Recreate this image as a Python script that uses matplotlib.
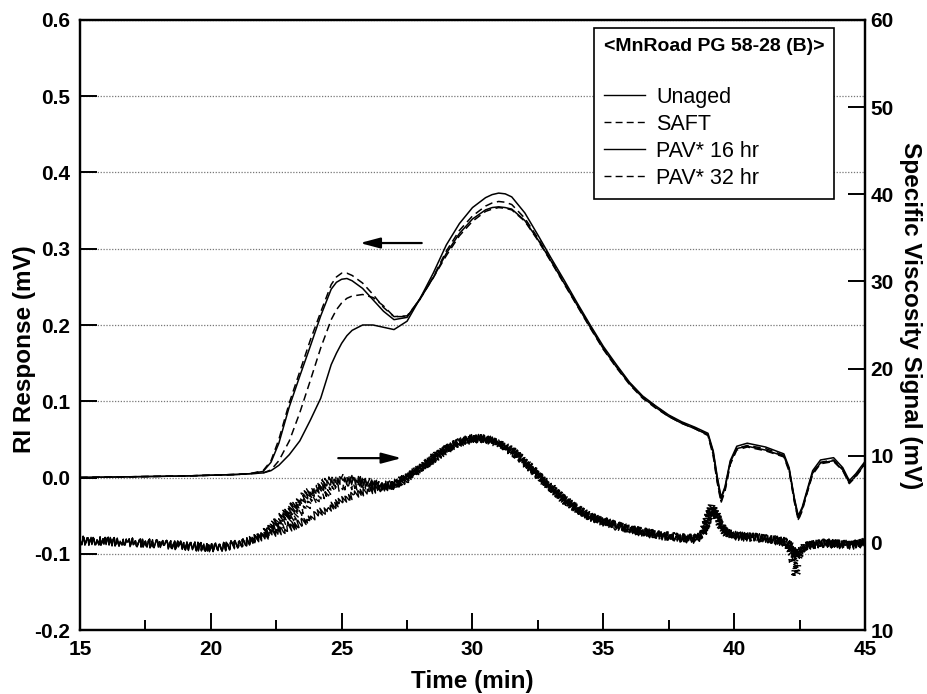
import matplotlib
matplotlib.use("Agg")
import matplotlib.pyplot as plt
from matplotlib.lines import Line2D
from matplotlib.ticker import FormatStrFormatter, MultipleLocator

plt.rcParams['font.family'] = ['Liberation Sans', 'DejaVu Sans']
plt.rcParams['axes.unicode_minus'] = False

# RI response (left axis, mV)
t_ri = [15, 17, 19, 20, 21, 21.5, 22, 22.3, 22.6, 23.0, 23.4, 23.8, 24.2, 24.6, 24.8, 25.0,
        25.2, 25.4, 25.8, 26.2, 26.6, 27.0, 27.5, 28.0, 28.5, 29.0, 29.5, 30.0, 30.5, 30.75,
        31.0, 31.25, 31.5, 32.0, 32.5, 33.0, 33.5, 34.0, 34.5, 35.0, 35.5, 36.0, 36.5, 37.0,
        37.5, 38.0, 38.5, 39.0, 39.2, 39.35, 39.5, 39.65, 39.85, 40.1, 40.5, 41.2, 41.9, 42.1,
        42.3, 42.45, 42.6, 42.75, 43.0, 43.3, 43.8, 44.15, 44.4, 44.65, 45.0]
ri_unaged = [0.0, 0.001, 0.002, 0.003, 0.004, 0.005, 0.006, 0.009, 0.016, 0.030, 0.048, 0.075,
             0.104, 0.148, 0.163, 0.176, 0.186, 0.193, 0.200, 0.200, 0.197, 0.194, 0.205,
             0.235, 0.268, 0.305, 0.333, 0.354, 0.367, 0.371, 0.373, 0.372, 0.368, 0.347,
             0.318, 0.288, 0.259, 0.229, 0.200, 0.172, 0.148, 0.125, 0.107, 0.094, 0.082,
             0.073, 0.066, 0.058, 0.035, 0.002, -0.026, -0.012, 0.022, 0.041, 0.045, 0.040,
             0.031, 0.013, -0.027, -0.050, -0.039, -0.021, 0.009, 0.023, 0.026, 0.013, -0.004,
             0.005, 0.021]
ri_saft = [0.0, 0.001, 0.002, 0.003, 0.004, 0.005, 0.006, 0.010, 0.022, 0.048, 0.085, 0.127,
           0.170, 0.207, 0.220, 0.229, 0.235, 0.238, 0.240, 0.236, 0.225, 0.211, 0.211, 0.234,
           0.263, 0.297, 0.324, 0.343, 0.356, 0.360, 0.362, 0.361, 0.358, 0.340, 0.314, 0.285,
           0.256, 0.227, 0.198, 0.170, 0.146, 0.124, 0.106, 0.093, 0.081, 0.072, 0.065, 0.056,
           0.030, -0.004, -0.031, -0.016, 0.018, 0.038, 0.042, 0.038, 0.029, 0.010, -0.030,
           -0.055, -0.042, -0.024, 0.006, 0.020, 0.023, 0.011, -0.006, 0.003, 0.019]
ri_pav16 = [0.0, 0.001, 0.002, 0.003, 0.004, 0.005, 0.008, 0.020, 0.045, 0.093, 0.133, 0.172,
            0.212, 0.247, 0.256, 0.260, 0.261, 0.258, 0.248, 0.233, 0.218, 0.207, 0.210, 0.235,
            0.262, 0.294, 0.320, 0.339, 0.351, 0.354, 0.355, 0.354, 0.352, 0.337, 0.312, 0.284,
            0.255, 0.226, 0.197, 0.169, 0.145, 0.123, 0.105, 0.092, 0.080, 0.071, 0.064, 0.056,
            0.033, 0.000, -0.028, -0.014, 0.020, 0.038, 0.041, 0.036, 0.028, 0.011, -0.028,
            -0.053, -0.041, -0.023, 0.006, 0.019, 0.022, 0.010, -0.007, 0.002, 0.018]
ri_pav32 = [0.0, 0.001, 0.002, 0.003, 0.004, 0.005, 0.009, 0.022, 0.050, 0.098, 0.139, 0.180,
            0.217, 0.253, 0.263, 0.268, 0.268, 0.265, 0.255, 0.240, 0.223, 0.211, 0.212, 0.234,
            0.262, 0.291, 0.317, 0.336, 0.349, 0.352, 0.354, 0.353, 0.351, 0.336, 0.311, 0.283,
            0.254, 0.225, 0.196, 0.168, 0.144, 0.122, 0.104, 0.091, 0.080, 0.071, 0.064, 0.055,
            0.028, -0.006, -0.033, -0.018, 0.017, 0.036, 0.040, 0.035, 0.027, 0.008, -0.032,
            -0.056, -0.044, -0.025, 0.004, 0.018, 0.021, 0.009, -0.008, 0.001, 0.017]

# specific viscosity signal (right axis, mV)
t_sv = [15, 16, 17, 18, 19, 20, 20.5, 21, 21.5, 22, 22.5, 23, 23.5, 24, 24.5, 25, 25.5, 26,
        26.5, 27, 27.5, 28, 28.5, 29, 29.5, 30, 30.5, 31, 31.5, 32, 32.5, 33, 33.5, 34, 34.5,
        35, 35.5, 36, 36.5, 37, 37.5, 38, 38.5, 38.8, 39.0, 39.15, 39.3, 39.5, 39.7, 40.0,
        40.5, 41, 41.5, 42, 42.2, 42.35, 42.5, 42.7, 43, 43.5, 44, 44.5, 45]
sv_unaged = [0.2, 0.1, 0.0, -0.2, -0.4, -0.6, -0.5, -0.2, 0.2, 0.7, 1.2, 1.7, 2.4, 3.2, 4.0,
             4.8, 5.5, 6.0, 6.3, 6.6, 7.3, 8.5, 9.6, 10.7, 11.5, 11.9, 11.9, 11.4, 10.5, 9.2,
             7.7, 6.3, 4.9, 3.9, 3.0, 2.4, 1.9, 1.5, 1.2, 0.9, 0.7, 0.5, 0.4, 0.9, 2.6, 3.8,
             3.2, 1.8, 1.1, 0.8, 0.6, 0.5, 0.3, 0.0, -0.5, -1.4, -0.9, -0.4, -0.2, -0.1, -0.2,
             -0.3, 0.0]
sv_saft = [0.3, 0.2, 0.1, -0.1, -0.3, -0.5, -0.4, -0.1, 0.3, 0.8, 1.6, 2.6, 3.8, 5.0, 5.9,
           6.4, 6.5, 6.5, 6.4, 6.6, 7.4, 8.6, 9.7, 10.8, 11.6, 12.0, 12.0, 11.5, 10.6, 9.3,
           7.8, 6.4, 5.0, 3.9, 3.0, 2.5, 2.0, 1.6, 1.3, 1.0, 0.8, 0.6, 0.5, 1.0, 2.8, 4.0,
           3.3, 1.9, 1.2, 0.9, 0.7, 0.6, 0.4, 0.1, -0.6, -1.8, -1.0, -0.4, -0.2, 0.0, -0.1,
           -0.2, 0.1]
sv_pav16 = [0.3, 0.2, 0.1, -0.1, -0.3, -0.5, -0.4, -0.1, 0.3, 1.0, 2.2, 3.5, 4.9, 6.0, 6.8,
            7.1, 7.1, 6.9, 6.5, 6.6, 7.5, 8.6, 9.7, 10.8, 11.6, 12.0, 12.0, 11.5, 10.6, 9.3,
            7.8, 6.4, 5.0, 3.9, 3.0, 2.5, 2.0, 1.6, 1.3, 1.0, 0.8, 0.6, 0.5, 1.1, 3.0, 4.2,
            3.4, 2.0, 1.2, 0.9, 0.7, 0.6, 0.4, 0.1, -0.6, -1.6, -1.0, -0.4, -0.2, 0.0, -0.1,
            -0.2, 0.1]
sv_pav32 = [0.3, 0.2, 0.1, -0.1, -0.3, -0.5, -0.4, -0.1, 0.3, 1.0, 2.4, 3.9, 5.3, 6.4, 7.1,
            7.4, 7.3, 7.0, 6.6, 6.7, 7.6, 8.7, 9.8, 10.8, 11.6, 12.0, 12.0, 11.5, 10.6, 9.3,
            7.8, 6.4, 4.9, 3.9, 3.0, 2.5, 2.0, 1.6, 1.3, 1.0, 0.8, 0.6, 0.5, 1.0, 2.8, 4.0,
            3.3, 1.9, 1.2, 0.9, 0.7, 0.6, 0.4, 0.1, -1.2, -3.8, -1.2, -0.4, -0.2, 0.0, -0.1,
            -0.2, 0.1]

labels = ['Unaged', 'SAFT', 'PAV* 16 hr', 'PAV* 32 hr']
styles = ['-', (0, (5, 3)), '-', (0, (5, 3))]

fig = plt.figure(figsize=(9.27, 6.94), dpi=100)
ax = fig.add_axes([0.0863, 0.0922, 0.8468, 0.879])
ax2 = ax.twinx()

for y, ls in zip([ri_unaged, ri_saft, ri_pav16, ri_pav32], styles):
    ax.plot(t_ri, y, color='black', lw=1.1, ls=ls)

for y, ls in zip([sv_unaged, sv_saft, sv_pav16, sv_pav32], styles):
    line, = ax2.plot(t_sv, y, color='black', lw=1.0, ls=ls)
    # detector noise look
    line.set_sketch_params(scale=4, length=3.5, randomness=2)

ax.set_xlim(15, 45)
ax.set_ylim(-0.2, 0.6)
ax2.set_ylim(-10, 60)

ax.xaxis.set_major_locator(MultipleLocator(5))
ax.xaxis.set_minor_locator(MultipleLocator(2.5))
ax.yaxis.set_major_locator(MultipleLocator(0.1))
ax.yaxis.set_major_formatter(FormatStrFormatter('%.1f'))
ax2.set_yticks(range(-10, 61, 10))
ax2.set_yticklabels(['10', '0', '10', '20', '30', '40', '50', '60'])

ax.yaxis.grid(True, ls=(0, (1, 1.3)), color='#777777', lw=0.9)
ax.set_axisbelow(True)

for a in (ax, ax2):
    for s in a.spines.values():
        s.set_linewidth(1.6)
ax.tick_params(axis='x', which='major', direction='in', length=12, width=1.4,
               labelsize=15, pad=7, top=False)
ax.tick_params(axis='x', which='minor', direction='in', length=7, width=1.4, top=False)
ax.tick_params(axis='y', direction='in', length=12, width=1.4, labelsize=15, pad=7, right=False)
ax2.tick_params(axis='y', direction='in', length=12, width=1.4, labelsize=15, pad=4)
for lab in ax.get_xticklabels() + ax.get_yticklabels() + ax2.get_yticklabels():
    lab.set_fontweight('bold')

ax.set_xlabel('Time (min)', fontsize=17.5, fontweight='bold', labelpad=8)
ax.set_ylabel('RI Response (mV)', fontsize=17.5, fontweight='bold')
ax.yaxis.set_label_coords(-0.056, 0.46)
ax2.set_ylabel('Specific Viscosity Signal (mV)', fontsize=17.5, fontweight='bold',
               rotation=270, va='center', ha='center')
ax2.yaxis.set_label_coords(1.058, 0.515)

ax.annotate('', xy=(25.7, 0.3075), xytext=(28.06, 0.3075),
            arrowprops=dict(arrowstyle='-|>,head_length=0.6,head_width=0.16',
                            color='black', lw=1.6, mutation_scale=20, shrinkA=0, shrinkB=0))
ax.annotate('', xy=(27.29, 0.0254), xytext=(24.87, 0.0254),
            arrowprops=dict(arrowstyle='-|>,head_length=0.6,head_width=0.16',
                            color='black', lw=1.6, mutation_scale=20, shrinkA=0, shrinkB=0))

handles = [Line2D([], [], color='black', lw=1.0, ls=ls) for ls in styles]
leg = ax2.legend(handles, labels, title='<MnRoad PG 58-28 (B)>\n', loc='upper left',
                 bbox_to_anchor=(0.6548, 0.9869), borderaxespad=0, fontsize=15.5,
                 title_fontproperties={'weight': 'bold', 'size': 14}, alignment='left',
                 frameon=True, fancybox=False, edgecolor='black', framealpha=1,
                 handlelength=1.9, handletextpad=0.55, labelspacing=0.28, borderpad=0.45)
leg.get_title().set_linespacing(1.7)
leg.get_frame().set_linewidth(1.2)

fig.savefig('out.png', dpi=100)
